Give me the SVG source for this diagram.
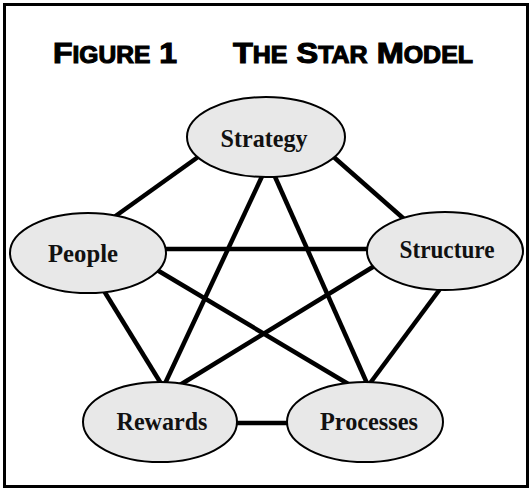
<svg xmlns="http://www.w3.org/2000/svg" width="530" height="489" viewBox="0 0 530 489">
<style>
.title{font-family:"Liberation Sans",Arial,sans-serif;font-weight:bold;fill:#000;stroke:#000;stroke-width:1.1}
.big{font-size:30px}
.sm{font-size:23px}
.node ellipse{fill:#e8e8e8;stroke:#000;stroke-width:2}
.node text{font-family:"Liberation Serif","Times New Roman",serif;font-weight:bold;font-size:25px;fill:#111;text-anchor:middle}
#connectors line{stroke:#000;stroke-width:4.5;stroke-linecap:butt}
</style>
<rect x="0" y="0" width="530" height="489" fill="#fff"/>
<rect x="4.5" y="4.5" width="523" height="482" fill="none" stroke="#000" stroke-width="3"/>
<text class="title" x="53" y="63" textLength="124" lengthAdjust="spacingAndGlyphs"><tspan class="big">F</tspan><tspan class="sm">IGURE</tspan><tspan class="big"> 1</tspan></text>
<text class="title" x="233" y="63" textLength="240" lengthAdjust="spacingAndGlyphs"><tspan class="big">T</tspan><tspan class="sm">HE</tspan><tspan class="big"> S</tspan><tspan class="sm">TAR</tspan><tspan class="big"> M</tspan><tspan class="sm">ODEL</tspan></text>
<g id="connectors">
<line x1="205" y1="152" x2="110" y2="220"/>
<line x1="328" y1="152" x2="412" y2="226"/>
<line x1="265" y1="170" x2="162" y2="390"/>
<line x1="272" y1="170" x2="370" y2="390"/>
<line x1="160" y1="249" x2="372" y2="249"/>
<line x1="152" y1="267" x2="355" y2="388"/>
<line x1="381" y1="262" x2="175" y2="388"/>
<line x1="101" y1="286" x2="165" y2="390"/>
<line x1="443" y1="285" x2="365" y2="390"/>
<line x1="230" y1="423" x2="295" y2="423"/>
</g>
<g id="strategy" class="node"><ellipse cx="266" cy="137" rx="79" ry="40"/><text x="264" y="147" textLength="87" lengthAdjust="spacingAndGlyphs">Strategy</text></g>
<g id="people" class="node"><ellipse cx="88" cy="253" rx="78" ry="40"/><text x="83" y="262" textLength="70" lengthAdjust="spacingAndGlyphs">People</text></g>
<g id="structure" class="node"><ellipse cx="445" cy="251" rx="78" ry="39"/><text x="447" y="258" textLength="95" lengthAdjust="spacingAndGlyphs">Structure</text></g>
<g id="rewards" class="node"><ellipse cx="160" cy="422" rx="77" ry="40"/><text x="162" y="430" textLength="91" lengthAdjust="spacingAndGlyphs">Rewards</text></g>
<g id="processes" class="node"><ellipse cx="365" cy="422" rx="78" ry="40"/><text x="369" y="430" textLength="98" lengthAdjust="spacingAndGlyphs">Processes</text></g>
</svg>
